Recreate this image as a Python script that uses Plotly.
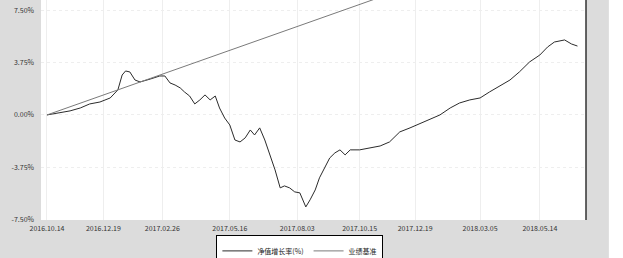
import pandas as pd
import plotly.graph_objects as go

start_date = "2016-10-14"
# days since start for fund samples
fund_days = [0, 15, 27, 39, 50, 62, 74, 83, 88, 92, 97, 103, 109, 121, 132, 138, 144, 150, 156, 161,
             167, 173, 179, 185, 191, 197, 202, 208, 214, 220, 226, 232, 238, 243, 249, 255, 261, 267,
             273, 278, 284, 290, 296, 303, 308, 314, 319, 325, 331, 337, 343, 349, 355, 366, 378, 390,
             401, 413, 425, 436, 448, 460, 472, 483, 495, 507, 518, 530, 542, 553, 565, 577, 586, 594,
             606, 614, 621]
fund_vals = [0.00, 0.14, 0.29, 0.50, 0.79, 0.93, 1.22, 1.80, 2.87, 3.16, 3.09, 2.51, 2.37, 2.58, 2.80,
             2.80, 2.30, 2.15, 1.94, 1.65, 1.36, 0.79, 1.08, 1.44, 1.08, 1.36, 0.50, -0.22, -0.72, -1.80,
             -1.94, -1.65, -1.08, -1.44, -0.93, -1.80, -2.87, -3.95, -5.24, -5.10, -5.24, -5.53, -5.60,
             -6.61, -6.10, -5.39, -4.52, -3.81, -3.09, -2.73, -2.51, -2.87, -2.51, -2.51, -2.37, -2.23,
             -1.94, -1.22, -0.93, -0.65, -0.36, 0.00, 0.50, 0.86, 1.08, 1.22, 1.65, 2.08, 2.51, 3.09,
             3.81, 4.31, 4.88, 5.24, 5.39, 5.10, 4.95]
bench_days = [0, 100, 200, 300, 400, 500, 631]
bench_vals = [0.00, 2.17, 4.34, 6.51, 8.68, 10.85, 13.69]

tick_days = [0, 66, 135, 214, 293, 366, 431, 507, 577]
y_ticks = [-7.5, -3.75, 0, 3.75, 7.5]
y_labels = ["-7.50%", "-3.75%", "0.00%", "3.75%", "7.50%"]
series_names = ["净值增长率(%)", "业绩基准"]

t0 = pd.Timestamp(start_date)
fx = [t0 + pd.Timedelta(days=d) for d in fund_days]
bx = [t0 + pd.Timedelta(days=d) for d in bench_days]
tx = [t0 + pd.Timedelta(days=d) for d in tick_days]

fig = go.Figure()
fig.add_trace(go.Scatter(x=fx, y=fund_vals, mode="lines", name=series_names[0],
                         line=dict(color="#2b2b2b", width=1)))
fig.add_trace(go.Scatter(x=bx, y=bench_vals, mode="lines", name=series_names[1],
                         line=dict(color="#7a7a7a", width=1)))

fig.update_layout(
    width=623, height=258,
    margin=dict(l=41, r=37, t=0, b=38, autoexpand=False),
    paper_bgcolor="#dcdcdc",
    plot_bgcolor="white",
    font=dict(family="Noto Sans CJK SC, DejaVu Sans", size=7, color="#333"),
    showlegend=True,
    legend=dict(orientation="h", x=0.475, xanchor="center", y=-0.07, yanchor="top",
                bgcolor="white", bordercolor="black", borderwidth=1,
                font=dict(size=7, color="#222"), itemwidth=30),
    xaxis=dict(range=[t0 - pd.Timedelta(days=7), t0 + pd.Timedelta(days=631)],
               tickvals=tx, tickformat="%Y.%m.%d", showgrid=True, gridcolor="#eeeeee",
               gridwidth=1, zeroline=False, showline=False, ticks="", tickfont=dict(size=7),
               ticklabelstandoff=3, automargin=False),
    yaxis=dict(range=[-7.55, 8.26], tickvals=y_ticks, ticktext=y_labels, showgrid=True,
               gridcolor="#eeeeee", griddash="dot", zeroline=False, showline=False,
               ticks="", tickfont=dict(size=7), ticklabelstandoff=6, automargin=False),
    shapes=[dict(type="line", xref="paper", yref="paper", x0=1, x1=1, y0=0, y1=1,
                 line=dict(color="#333", width=1.5)),
            dict(type="rect", xref="paper", yref="paper", x0=1.042, x1=1.1, y0=-0.2, y1=1.01,
                 fillcolor="white", line=dict(width=0), layer="below")],
)

fig.write_html("out.html", config={"displayModeBar": False},
               post_script="document.body.style.margin='0';document.body.style.padding='0';")
